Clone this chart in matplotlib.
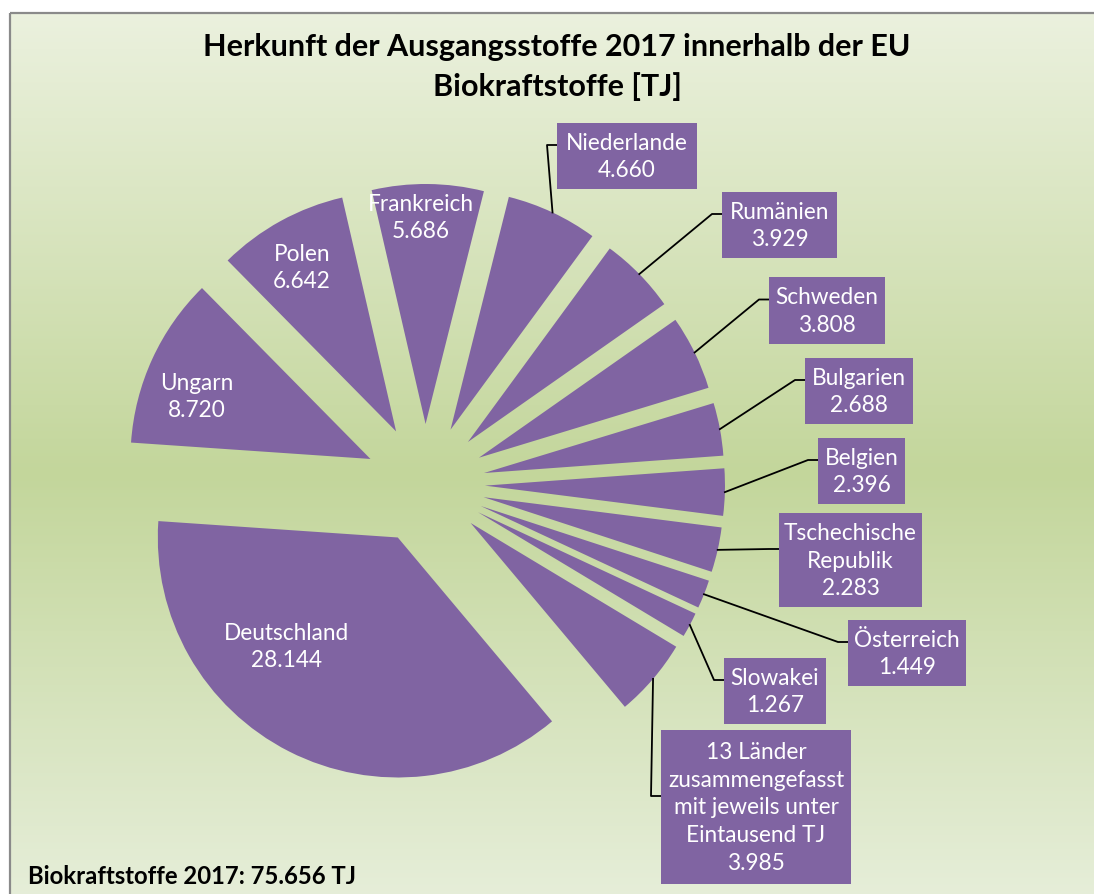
import matplotlib.pyplot as plt
import numpy as np
from matplotlib.colors import LinearSegmentedColormap
from matplotlib.patches import Rectangle

# Daten: Herkunft der Ausgangsstoffe 2017 (Biokraftstoffe, TJ)
countries = ["Deutschland", "Ungarn", "Polen", "Frankreich", "Niederlande", "Rumänien",
             "Schweden", "Bulgarien", "Belgien", "Tschechische\nRepublik", "Österreich",
             "Slowakei", "13 Länder\nzusammengefasst\nmit jeweils unter\nEintausend TJ"]
values = [28144, 8720, 6642, 5686, 4660, 3929, 3808, 2688, 2396, 2283, 1449, 1267, 3985]
total = 75656

title = "Herkunft der Ausgangsstoffe 2017 innerhalb der EU\nBiokraftstoffe [TJ]"
footer = "Biokraftstoffe 2017: " + f"{total:,}".replace(",", ".") + " TJ"

# Layout in Pixel
W, H = 1094, 895
cx, cy, R = 425, 485, 240
purple = "#8064A2"
font = "Lato"

# Beschriftungen innerhalb der Segmente (Mittelpunkt)
inside_pos = {0: (287, 647), 1: (197, 397), 2: (302, 268), 3: (421, 218)}
# Boxen fuer die kleineren Segmente (links, oben, rechts, unten)
boxes = {4: (557, 124, 697, 190), 5: (722, 193, 837, 259), 6: (769, 278, 885, 345),
         7: (805, 359, 913, 425), 8: (818, 439, 905, 505), 9: (779, 514, 922, 608),
         10: (848, 621, 966, 687), 11: (724, 659, 826, 725), 12: (661, 731, 851, 885)}


def fmt(v):
    return f"{v:,}".replace(",", ".")


fig = plt.figure(figsize=(W / 100, H / 100), dpi=100)
fig.patch.set_facecolor("white")

# Hintergrund mit Farbverlauf
bg = fig.add_axes([0, 0, 1, 1])
bg.set_xlim(0, W)
bg.set_ylim(H, 0)
bg.axis("off")
cmap = LinearSegmentedColormap.from_list(
    "bg", [(0, "#ebf1de"), (0.52, "#c3d69b"), (1, "#e6eed9")])
grad = np.linspace(0, 1, 500).reshape(-1, 1)
bg.imshow(grad, extent=(10, W + 5, H + 5, 14), aspect="auto", cmap=cmap, zorder=0)
bg.add_patch(Rectangle((10, 14), W, H, fill=False, ec="#8a8a8a", lw=1.6, zorder=1))

# Tortendiagramm
ax = fig.add_axes([0, 0, 1, 1])
ax.patch.set_alpha(0)
wedges, _ = ax.pie(values, explode=[0.25] * len(values), startangle=-50,
                   counterclock=False, colors=[purple] * len(values), radius=1)
ax.set_aspect("auto")
ax.set_xlim(-cx / R, (W - cx) / R)
ax.set_ylim(-(H - cy) / R, cy / R)
ax.axis("off")


def px(x, y):
    return (x - cx) / R, (cy - y) / R


for i, w in enumerate(wedges):
    label = countries[i] + "\n" + fmt(values[i])
    if i in inside_pos:
        x, y = px(*inside_pos[i])
        ax.text(x, y, label, color="white", ha="center", va="center", fontsize=16.3,
                family=font, linespacing=1.4, multialignment="center")
        continue
    x0, y0, x1, y1 = boxes[i]
    bl, bt = px(x0, y0)
    br, bb = px(x1, y1)
    ax.add_patch(Rectangle((bl, bb), br - bl, bt - bb, fc=purple, ec="none", zorder=3))
    ax.text((bl + br) / 2, (bt + bb) / 2, label, color="white", ha="center",
            va="center", fontsize=16.3, family=font, linespacing=1.4,
            multialignment="center", zorder=4)
    # Fuehrungslinie vom Segmentrand zur Box
    mid = np.deg2rad((w.theta1 + w.theta2) / 2)
    sx = w.center[0] + w.r * np.cos(mid)
    sy = w.center[1] + w.r * np.sin(mid)
    ex, ey = px(x0 - 10, (y0 + y1) / 2 - 11)
    ax.plot([sx, ex, bl], [sy, ey, ey], color="black", lw=1.3, zorder=2)

fig.text(557 / W, 1 - 67 / H, title, ha="center", va="center", fontsize=22,
         fontweight="bold", family=font, linespacing=1.45)
fig.text(28 / W, 1 - 884 / H, footer, ha="left", va="baseline", fontsize=17.2,
         fontweight="bold", family=font)

fig.savefig("out.png", dpi=100)
